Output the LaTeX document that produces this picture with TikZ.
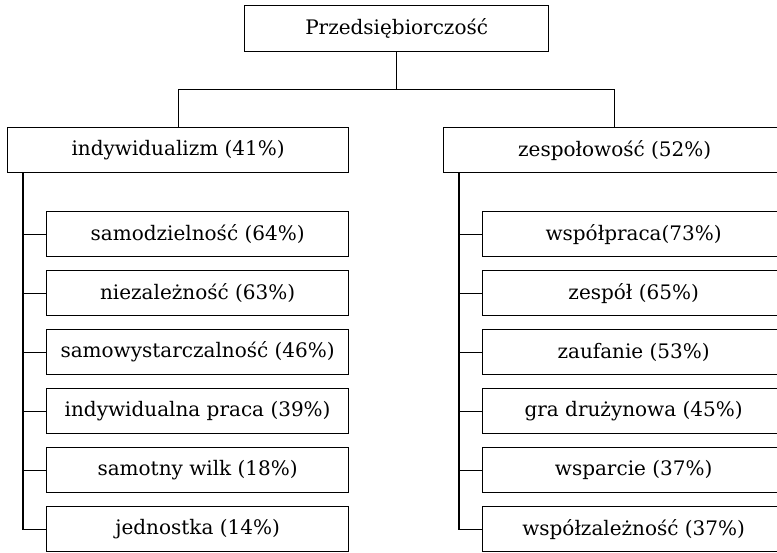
\documentclass[tikz,border=0pt]{standalone}
\usepackage{fontspec}
\setmainfont{DejaVu Serif}
\tikzset{box/.style={draw, line width=1.3pt, inner sep=0pt, minimum height=45pt, anchor=north west, font=\fontsize{20}{24}\selectfont},
  link/.style={line width=1.3pt}}

\begin{document}
\begin{tikzpicture}[x=1pt, y=-1pt]
\useasboundingbox (0,0) rectangle (777,552);
\clip (0,0) rectangle (777,552);
\node[box, minimum width=304pt, minimum height=46pt] (root) at (244,5) {Przedsiębiorczość};
\node[box, minimum width=341pt] (indiv) at (7,127) {indywidualizm (41\%)};
\node[box, minimum width=342pt] (team) at (443,127) {zespołowość (52\%)};
\foreach \txt [count=\i] in {samodzielność (64\%), niezależność (63\%), samowystarczalność (46\%),
    indywidualna praca (39\%), samotny wilk (18\%), jednostka (14\%)}{
  \node[box, minimum width=302pt] (l\i) at (46, {211+59*(\i-1)}) {\txt};
}
\foreach \txt [count=\i] in {współpraca(73\%), zespół (65\%), zaufanie (53\%),
    gra drużynowa (45\%), wsparcie (37\%), współzależność (37\%)}{
  \node[box, minimum width=302pt] (r\i) at (482, {211+59*(\i-1)}) {\txt};
}
\draw[link] (root.south) -- ++(0,37) coordinate (fork);
\draw[link] (indiv.north) |- (fork) -| (team.north);
\coordinate (ltrunk) at ([xshift=16pt]indiv.south west);
\coordinate (rtrunk) at ([xshift=16pt]team.south west);
\draw[link] (ltrunk) |- (l6.west);
\draw[link] (rtrunk) |- (r6.west);
\foreach \i in {1,...,5}{
  \draw[link] (ltrunk |- l\i.west) -- (l\i.west);
  \draw[link] (rtrunk |- r\i.west) -- (r\i.west);
}
\end{tikzpicture}
\end{document}
